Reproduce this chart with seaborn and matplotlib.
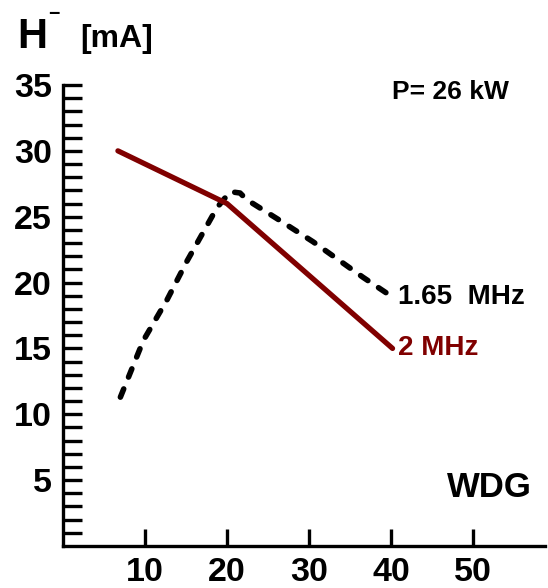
import numpy as np
import pandas as pd
import matplotlib
matplotlib.use('Agg')
import matplotlib.pyplot as plt
import seaborn as sns

# values
x_2mhz = [6.7, 20, 40.2]
h_2mhz = [30.0, 26.0, 15.0]
x_165mhz = [7.0, 9.8, 12.7, 15.1, 18.8, 20.4, 21.6, 22.4, 26.5, 30.5, 36.6, 40.2]
h_165mhz = [11.3, 15.6, 18.7, 21.6, 25.7, 26.9, 26.8, 26.3, 24.7, 23.1, 20.4, 18.9]
x_ticks = [10, 20, 30, 40, 50]
y_ticks = [5, 10, 15, 20, 25, 30, 35]
y_minor = list(range(1, 35))

sns.set_style("ticks")
plt.rcParams['font.family'] = ['Liberation Sans', 'DejaVu Sans']
plt.rcParams['font.weight'] = 'bold'
plt.rcParams['text.color'] = 'black'
plt.rcParams['axes.edgecolor'] = 'black'
plt.rcParams['xtick.color'] = 'black'
plt.rcParams['ytick.color'] = 'black'

RED = '#800000'

fig = plt.figure(figsize=(5.48, 5.88), dpi=100)
ax = fig.add_axes([63 / 548, 42 / 588, 482 / 548, 461 / 588])

sns.lineplot(x=x_165mhz, y=h_165mhz, color='black', linewidth=4, sort=False,
             ax=ax)
dash = ax.lines[-1]
dash.set_dashes((1.6, 2.3))
dash.set_dash_capstyle('round')
dash.set_solid_capstyle('round')

sns.lineplot(x=x_2mhz, y=h_2mhz, color=RED, linewidth=3.8, sort=False, ax=ax)
ax.lines[-1].set_solid_capstyle('round')

ax.set_xlim(0, 58.8)
ax.set_ylim(0, 35)
ax.set_xticks(x_ticks)
ax.set_yticks(y_ticks)
ax.set_yticks(y_minor, minor=True)
ax.tick_params(axis='both', which='both', direction='in', width=2.4,
               labelsize=24.5, pad=8, color='black', labelcolor='black')
ax.tick_params(axis='y', which='both', length=13.5)
ax.tick_params(axis='x', which='major', length=12)
for lab in ax.get_xticklabels() + ax.get_yticklabels():
    lab.set_fontweight('bold')

sns.despine(ax=ax)
for side in ['left', 'bottom']:
    ax.spines[side].set_linewidth(2.4)
ax.set_xlabel('')
ax.set_ylabel('')

# series labels next to the line ends
ax.annotate('1.65  MHz', xy=(x_165mhz[-1], h_165mhz[-1]), xytext=(4, 0),
            textcoords='offset points', ha='left', va='center',
            fontsize=20, fontweight='bold', color='black')
ax.annotate('2 MHz', xy=(x_2mhz[-1], h_2mhz[-1]), xytext=(4, 0),
            textcoords='offset points', ha='left', va='center',
            fontsize=20, fontweight='bold', color=RED)

fig.text(392 / 548, 1 - 99 / 588, 'P= 26 kW', fontsize=19, fontweight='bold',
         ha='left', va='baseline')
fig.text(447 / 548, 1 - 497 / 588, 'WDG', fontsize=25, fontweight='bold',
         ha='left', va='baseline')

# axis title in the top left corner
fig.text(17 / 548, 1 - 48 / 588, 'H', fontsize=30, fontweight='bold',
         ha='left', va='baseline')
fig.text(48 / 548, 1 - 19.5 / 588, '\u2212', fontsize=14, fontweight='bold',
         ha='left', va='baseline')
fig.text(80 / 548, 1 - 47 / 588, '[mA]', fontsize=23, fontweight='bold',
         ha='left', va='baseline')

plt.savefig('out.png', dpi=100)
plt.close()
